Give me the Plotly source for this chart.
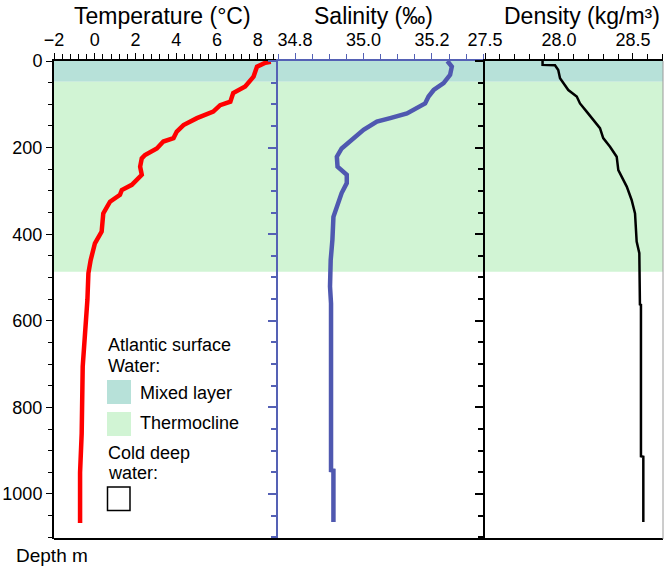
import plotly.graph_objects as go

# ---- data ----
temp_depth = [2, 4, 13, 36, 59, 74, 94, 102, 117, 132, 148, 163, 178, 186, 202, 217, 225, 244, 263,
              286, 298, 309, 325, 352, 394, 421, 460, 490, 552, 630, 706, 860, 950, 1067]
temp_vals = [8.65, 8.38, 7.97, 7.80, 7.39, 6.80, 6.66, 6.16, 5.82, 5.02, 4.36, 4.03, 3.87, 3.37, 3.05,
             2.47, 2.31, 2.23, 2.31, 1.82, 1.33, 1.24, 0.75, 0.42, 0.34, 0.01, -0.20, -0.31, -0.36,
             -0.48, -0.59, -0.64, -0.72, -0.72]

sal_depth = [0, 13, 32, 51, 67, 82, 98, 109, 121, 132, 140, 159, 182, 202, 221, 244, 263, 282, 305,
             336, 360, 413, 460, 521, 560, 945, 946, 1065]
sal_vals = [35.245, 35.258, 35.253, 35.234, 35.205, 35.190, 35.180, 35.156, 35.127, 35.078, 35.039,
            35.000, 34.966, 34.936, 34.922, 34.924, 34.951, 34.951, 34.936, 34.922, 34.912, 34.909,
            34.904, 34.902, 34.905, 34.905, 34.912, 34.912]

dens_depth = [0, 9, 10, 21, 40, 67, 82, 98, 117, 136, 155, 178, 198, 221, 252, 290, 321, 352, 417,
              444, 562, 563, 913, 914, 1065]
dens_vals = [27.889, 27.889, 27.973, 27.995, 28.007, 28.063, 28.120, 28.142, 28.187, 28.232, 28.277,
             28.299, 28.345, 28.390, 28.401, 28.458, 28.491, 28.514, 28.525, 28.543, 28.547, 28.554,
             28.554, 28.570, 28.570]

mixed_layer = [0, 48]
thermocline = [48, 487]

temp_ticks = [-2, 0, 2, 4, 6, 8]
sal_ticks = [34.8, 35.0, 35.2]
dens_ticks = [27.5, 28.0, 28.5]
depth_ticks = [0, 200, 400, 600, 800, 1000]

# ---- styling ----
FONT = "Liberation Sans, Arial, Helvetica, sans-serif"
RED = "#FF0000"
BLUE = "#4F58B0"
AXBLUE = "#5561B5"
MIXED = "#B7E1D9"
THERMO = "#D1F4D4"

W, H = 664, 573
L, R, T, B = 54, 1, 61, 34
PW, PH = W - L - R, H - T - B


def px(xp):
    return (xp - L) / PW


def py(yp):
    return (H - B - yp) / PH


d1 = px(278)
d2 = px(485)

fig = go.Figure()
fig.add_trace(go.Scatter(x=temp_vals, y=temp_depth, mode="lines", line=dict(color=RED, width=4.5),
                         xaxis="x", yaxis="y", showlegend=False))
fig.add_trace(go.Scatter(x=sal_vals, y=sal_depth, mode="lines", line=dict(color=BLUE, width=4.5),
                         xaxis="x2", yaxis="y2", showlegend=False))
fig.add_trace(go.Scatter(x=dens_vals, y=dens_depth, mode="lines", line=dict(color="black", width=2.5),
                         xaxis="x3", yaxis="y3", showlegend=False))

tickfont = dict(family=FONT, size=18, color="black")
yrange = [1104, 0]

common_x = dict(side="top", showline=True, linewidth=1.5, ticks="outside", ticklen=6, tickwidth=1.2,
                showgrid=False, zeroline=False, tickfont=tickfont)

fig.update_layout(
    width=W, height=H, margin=dict(l=L, r=R, t=T, b=B),
    plot_bgcolor="white", paper_bgcolor="white",
    font=dict(family=FONT, size=18, color="black"),
    xaxis=dict(domain=[0, d1], range=[-2, 9], anchor="y", tickvals=temp_ticks,
               linecolor="black", tickcolor="black",
               minor=dict(dtick=0.4, tick0=-2, ticks="outside", ticklen=5, tickcolor="black"),
               **common_x),
    xaxis2=dict(domain=[d1, d2], range=[34.75, 35.355], anchor="y2", tickvals=sal_ticks,
                ticktext=["34.8", "35.0", "35.2"], linecolor=AXBLUE, tickcolor=AXBLUE,
                minor=dict(dtick=0.05, tick0=34.75, ticks="outside", ticklen=5, tickcolor=AXBLUE),
                **common_x),
    xaxis3=dict(domain=[d2, 1], range=[27.5, 28.703], anchor="y3", tickvals=dens_ticks,
                ticktext=["27.5", "28.0", "28.5"], linecolor="black", tickcolor="black",
                minor=dict(dtick=0.1, tick0=27.5, ticks="outside", ticklen=5, tickcolor="black"),
                **common_x),
    yaxis=dict(domain=[0, 1], range=yrange, anchor="x", tickvals=depth_ticks, ticks="outside",
               ticklen=6, tickwidth=1.2, showline=True, linewidth=2, linecolor="black",
               tickcolor="black", showgrid=False, zeroline=False, tickfont=tickfont,
               minor=dict(dtick=50, tick0=0, ticks="outside", ticklen=4, tickcolor="black")),
    yaxis2=dict(domain=[0, 1], range=yrange, anchor="x2", tickvals=depth_ticks, ticks="outside",
                ticklen=8, tickwidth=1.5, showline=True, linewidth=2, linecolor=AXBLUE,
                tickcolor=AXBLUE, showgrid=False, zeroline=False, showticklabels=False,
                minor=dict(dtick=50, tick0=0, ticks="outside", ticklen=5, tickcolor=AXBLUE)),
    yaxis3=dict(domain=[0, 1], range=yrange, anchor="x3", tickvals=depth_ticks, ticks="outside",
                ticklen=8, tickwidth=1.5, showline=True, linewidth=2, linecolor="black",
                tickcolor="black", showgrid=False, zeroline=False, showticklabels=False,
                minor=dict(dtick=50, tick0=0, ticks="outside", ticklen=5, tickcolor="black")),
)

shapes = [
    dict(type="rect", xref="paper", yref="y", x0=0, x1=1, y0=mixed_layer[0], y1=mixed_layer[1],
         fillcolor=MIXED, line=dict(width=0), layer="below"),
    dict(type="rect", xref="paper", yref="y", x0=0, x1=1, y0=thermocline[0], y1=thermocline[1],
         fillcolor=THERMO, line=dict(width=0), layer="below"),
    # bottom frame line and right edge
    dict(type="line", xref="paper", yref="paper", x0=0, x1=1, y0=0, y1=0,
         line=dict(color="black", width=2)),
    dict(type="line", xref="paper", yref="paper", x0=1, x1=1, y0=0, y1=1,
         line=dict(color="#9a9a9a", width=1)),
    # legend swatches
    dict(type="rect", xref="paper", yref="paper", x0=px(107), x1=px(131), y0=py(404), y1=py(380),
         fillcolor=MIXED, line=dict(width=0)),
    dict(type="rect", xref="paper", yref="paper", x0=px(107), x1=px(131), y0=py(436), y1=py(412),
         fillcolor=THERMO, line=dict(width=0)),
    dict(type="rect", xref="paper", yref="paper", x0=px(107.5), x1=px(130), y0=py(510.5), y1=py(487),
         fillcolor="white", line=dict(color="black", width=1.5)),
]
fig.update_layout(shapes=shapes)

ann = []


def text(s, xp, yp, size=18, xanchor="left"):
    ann.append(dict(text=s, xref="paper", yref="paper", x=px(xp), y=py(yp), xanchor=xanchor,
                    yanchor="middle", showarrow=False, font=dict(family=FONT, size=size, color="black")))


text("Temperature (°C)", 162, 16, size=23, xanchor="center")
text("Salinity (‰)", 373, 16, size=23, xanchor="center")
text("Density (kg/m³)", 582, 16, size=23, xanchor="center")
text("Atlantic surface", 106, 345)
text("Water:", 106, 366)
text("Mixed layer", 138, 393)
text("Thermocline", 138, 423)
text("Cold deep", 106, 453)
text("water:", 106, 473)
text("Depth m", 14, 555, size=19)
fig.update_layout(annotations=ann)

fig.write_html("out.html")
